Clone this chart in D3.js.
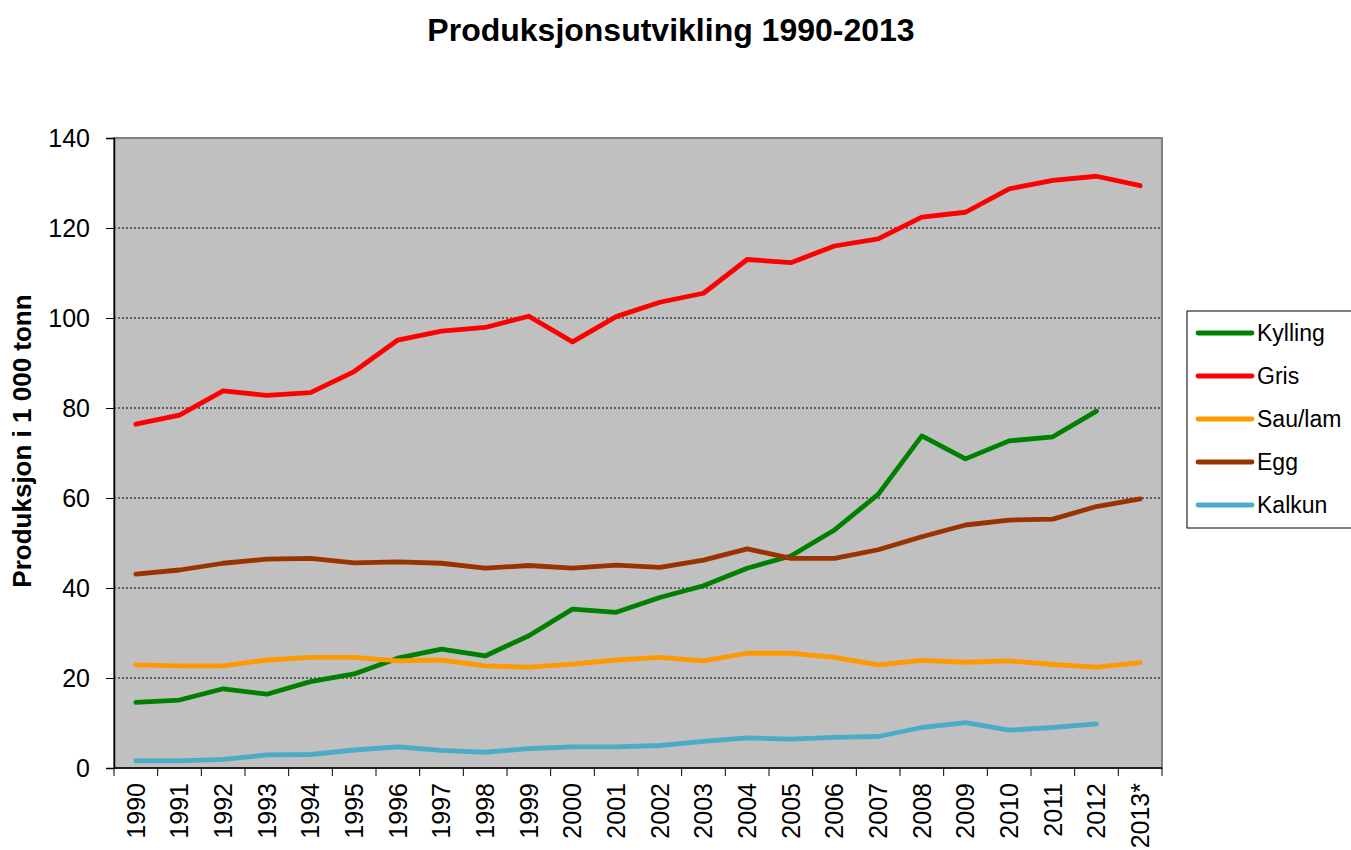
<!DOCTYPE html>
<html>
<head>
<meta charset="utf-8">
<script src="https://cdn.jsdelivr.net/npm/d3@7"></script>
<style>
  html, body { margin: 0; padding: 0; background: #fff; }
  svg { display: block; font-family: Arial, "Liberation Sans", sans-serif; }
</style>
</head>
<body>
<div id="chart"></div>
<script>
// ---- data ----
const categories = ['1990', '1991', '1992', '1993', '1994', '1995', '1996', '1997', '1998', '1999',
  '2000', '2001', '2002', '2003', '2004', '2005', '2006', '2007', '2008', '2009', '2010', '2011', '2012', '2013*'];

const kylling = [14.6, 15.1, 17.6, 16.4, 19.2, 20.9, 24.4, 26.4, 24.9, 29.4, 35.3, 34.6,
  37.9, 40.5, 44.4, 47.1, 52.9, 60.8, 73.8, 68.7, 72.7, 73.6, 79.3, null];
const gris = [76.4, 78.4, 83.8, 82.8, 83.4, 88.1, 95.1, 97.1, 97.9, 100.4, 94.7, 100.3,
  103.5, 105.5, 113.0, 112.3, 116.0, 117.6, 122.4, 123.5, 128.7, 130.6, 131.5, 129.4];
const sauLam = [22.9, 22.7, 22.7, 24.0, 24.6, 24.6, 23.8, 24.0, 22.7, 22.4, 23.1, 24.0,
  24.6, 23.8, 25.5, 25.5, 24.6, 22.9, 23.9, 23.5, 23.8, 23.0, 22.4, 23.4];
const egg = [43.1, 44.0, 45.5, 46.4, 46.6, 45.6, 45.8, 45.5, 44.4, 45.0, 44.4, 45.1,
  44.6, 46.2, 48.7, 46.6, 46.6, 48.5, 51.4, 54.0, 55.1, 55.3, 58.1, 59.8];
const kalkun = [1.6, 1.6, 1.9, 2.9, 3.0, 4.0, 4.7, 3.9, 3.5, 4.3, 4.7, 4.7,
  5.0, 5.9, 6.7, 6.4, 6.8, 7.0, 9.0, 10.1, 8.4, 9.0, 9.8, null];

const seriesNames = ['Kylling', 'Gris', 'Sau/lam', 'Egg', 'Kalkun'];
const yTicks = [0, 20, 40, 60, 80, 100, 120, 140];

const colors = {
  'Kylling': '#008000',
  'Gris': '#FF0000',
  'Sau/lam': '#FF9900',
  'Egg': '#993300',
  'Kalkun': '#4BACC6'
};

const series = [kylling, gris, sauLam, egg, kalkun].map((values, i) => ({
  name: seriesNames[i],
  values
}));

// ---- layout ----
const width = 1351, height = 850;
const plot = { left: 114, top: 138, right: 1162, bottom: 768 };

const svg = d3.select('#chart').append('svg')
  .attr('width', width)
  .attr('height', height);

const x = d3.scaleBand()
  .domain(categories)
  .range([plot.left, plot.right])
  .padding(0);

const y = d3.scaleLinear()
  .domain([0, 140])
  .range([plot.bottom, plot.top]);

const cx = c => x(c) + x.bandwidth() / 2;

// plot background
svg.append('rect')
  .attr('x', plot.left)
  .attr('y', plot.top)
  .attr('width', plot.right - plot.left)
  .attr('height', plot.bottom - plot.top)
  .attr('fill', '#C0C0C0')
  .attr('stroke', '#808080')
  .attr('stroke-width', 2);

// dotted gridlines
svg.append('g')
  .selectAll('line')
  .data(yTicks.filter(d => d > 0 && d < 140))
  .join('line')
  .attr('x1', plot.left)
  .attr('x2', plot.right)
  .attr('y1', d => y(d))
  .attr('y2', d => y(d))
  .attr('stroke', '#000')
  .attr('stroke-width', 1)
  .attr('stroke-dasharray', '2,2');

// y axis
const yAxis = svg.append('g')
  .attr('transform', `translate(${plot.left},0)`)
  .call(d3.axisLeft(y).tickValues(yTicks).tickSize(8).tickPadding(16));
yAxis.select('.domain').attr('stroke', '#000').attr('stroke-width', 1.5);
yAxis.selectAll('line').attr('stroke', '#000');
yAxis.selectAll('text')
  .attr('fill', '#000')
  .style('font-size', '25px');

// x axis: ticks on category boundaries
const xg = svg.append('g');
xg.append('line')
  .attr('x1', plot.left)
  .attr('x2', plot.right)
  .attr('y1', plot.bottom)
  .attr('y2', plot.bottom)
  .attr('stroke', '#000')
  .attr('stroke-width', 1.5);

xg.selectAll('line.tick')
  .data(categories.concat(['__end']))
  .join('line')
  .attr('class', 'tick')
  .attr('x1', d => d === '__end' ? plot.right : x(d))
  .attr('x2', d => d === '__end' ? plot.right : x(d))
  .attr('y1', plot.bottom)
  .attr('y2', plot.bottom + 8)
  .attr('stroke', '#000');

xg.selectAll('text')
  .data(categories)
  .join('text')
  .attr('transform', d => `translate(${cx(d)},${plot.bottom + 15}) rotate(-90)`)
  .attr('text-anchor', 'end')
  .attr('dy', '0.35em')
  .style('font-size', '25px')
  .attr('fill', '#000')
  .text(d => d);

// lines
const line = d3.line()
  .defined(d => d.v != null)
  .x(d => cx(d.c))
  .y(d => y(d.v));

svg.append('g')
  .selectAll('path')
  .data(series)
  .join('path')
  .attr('fill', 'none')
  .attr('stroke', d => colors[d.name])
  .attr('stroke-width', 4.8)
  .attr('stroke-linejoin', 'round')
  .attr('stroke-linecap', 'round')
  .attr('d', d => line(d.values.map((v, i) => ({ c: categories[i], v }))));

// title
svg.append('text')
  .attr('x', 671)
  .attr('y', 41)
  .attr('text-anchor', 'middle')
  .style('font-size', '32px')
  .style('font-weight', 'bold')
  .text('Produksjonsutvikling 1990-2013');

// y axis title
svg.append('text')
  .attr('transform', `translate(31,441) rotate(-90)`)
  .attr('text-anchor', 'middle')
  .style('font-size', '26px')
  .style('font-weight', 'bold')
  .text('Produksjon i 1 000 tonn');

// legend
const legend = svg.append('g');
legend.append('rect')
  .attr('x', 1187)
  .attr('y', 311)
  .attr('width', 180)
  .attr('height', 217)
  .attr('fill', '#fff')
  .attr('stroke', '#000')
  .attr('stroke-width', 1);

const rows = legend.selectAll('g.row')
  .data(seriesNames)
  .join('g')
  .attr('class', 'row')
  .attr('transform', (d, i) => `translate(1198,${333 + i * 43})`);

rows.append('line')
  .attr('x1', 0)
  .attr('x2', 54)
  .attr('stroke', d => colors[d])
  .attr('stroke-width', 4.8)
  .attr('stroke-linecap', 'round');

rows.append('text')
  .attr('x', 59)
  .attr('dy', '0.35em')
  .style('font-size', '23px')
  .attr('fill', '#000')
  .text(d => d);
</script>
</body>
</html>
